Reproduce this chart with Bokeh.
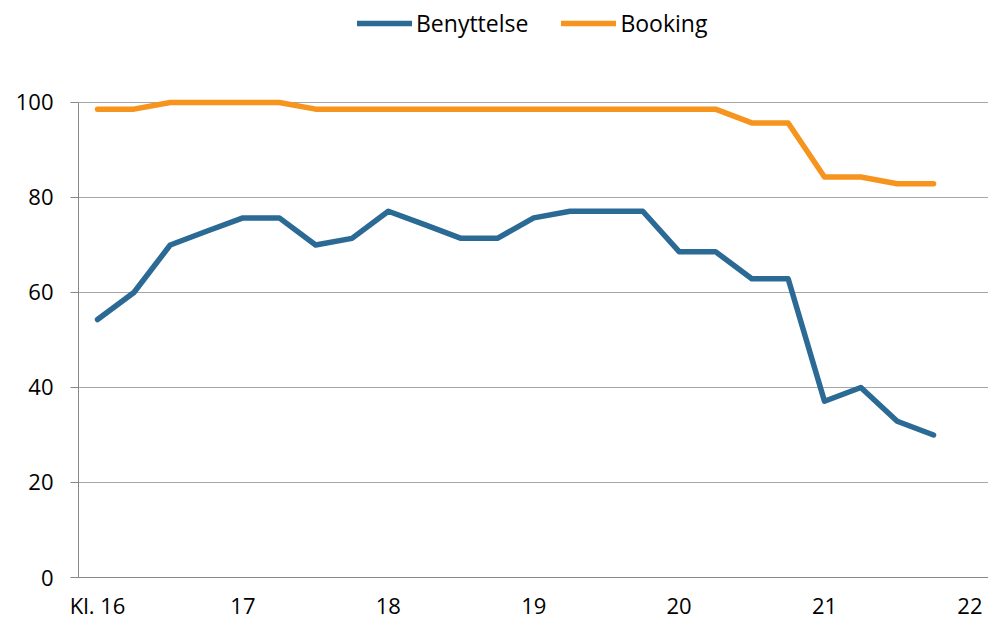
from bokeh.plotting import figure
from bokeh.models import Range1d, FixedTicker, Legend, LegendItem
from bokeh.embed import file_html
from bokeh.resources import INLINE

# Time of day (hours), quarter-hour steps
hours = [16 + 0.25 * i for i in range(24)]
benyttelse = [54.3, 60.0, 70.0, 72.9, 75.7, 75.7, 70.0, 71.4, 77.1, 74.3, 71.4, 71.4,
              75.7, 77.1, 77.1, 77.1, 68.6, 68.6, 62.9, 62.9, 37.1, 40.0, 32.9, 30.0]
booking = [98.6, 98.6, 100.0, 100.0, 100.0, 100.0, 98.6, 98.6, 98.6, 98.6, 98.6, 98.6,
           98.6, 98.6, 98.6, 98.6, 98.6, 98.6, 95.7, 95.7, 84.3, 84.3, 82.9, 82.9]
x_ticks = [16, 17, 18, 19, 20, 21, 22]
x_tick_labels = ["Kl. 16", "17", "18", "19", "20", "21", "22"]
y_ticks = [0, 20, 40, 60, 80, 100]

FONT = "Open Sans"
BLUE = "#2B6A94"
ORANGE = "#F7941E"

p = figure(width=988, height=622, output_backend="svg", toolbar_location=None,
           x_range=Range1d(15.869, 22.128), y_range=Range1d(0, 121.47),
           min_border_left=78, min_border_right=0, min_border_top=0, min_border_bottom=45)
p.outline_line_color = None
p.background_fill_color = "white"

r1 = p.line(hours, benyttelse, line_color=BLUE, line_width=5.5, line_join="round", line_cap="round")
r2 = p.line(hours, booking, line_color=ORANGE, line_width=5.5, line_join="round", line_cap="round")

# x axis
p.xaxis.ticker = FixedTicker(ticks=x_ticks)
p.xaxis.major_label_overrides = {t: l for t, l in zip(x_ticks, x_tick_labels)}
p.xaxis.major_tick_line_color = None
p.xaxis.major_tick_out = 0
p.xaxis.major_tick_in = 0
p.xaxis.minor_tick_line_color = None
p.xaxis.axis_line_color = "#888888"
p.xaxis.axis_line_width = 1
p.xaxis.major_label_standoff = 12
p.xaxis.major_label_text_font = FONT
p.xaxis.major_label_text_font_size = "22px"
p.xaxis.major_label_text_color = "black"
p.xgrid.grid_line_color = None

# y axis
p.yaxis.ticker = FixedTicker(ticks=y_ticks)
p.yaxis.bounds = (0, 100)
p.yaxis.major_tick_out = 8
p.yaxis.major_tick_in = 0
p.yaxis.major_tick_line_color = "#888888"
p.yaxis.minor_tick_line_color = None
p.yaxis.axis_line_color = "#888888"
p.yaxis.major_label_standoff = 17
p.yaxis.major_label_text_font = FONT
p.yaxis.major_label_text_font_size = "22px"
p.yaxis.major_label_text_color = "black"
p.ygrid.grid_line_color = "#A6A6A6"
p.ygrid.grid_line_width = 1

legend = Legend(items=[LegendItem(label="Benyttelse", renderers=[r1]),
                       LegendItem(label="Booking", renderers=[r2])],
                orientation="horizontal", location=(279, 538),
                label_text_font=FONT, label_text_font_size="23px", label_text_color="black",
                glyph_width=55, glyph_height=20, label_height=20, label_standoff=4,
                spacing=33, padding=0, margin=0,
                border_line_color=None, background_fill_alpha=0)
p.add_layout(legend, "center")

open("out.html", "w").write(file_html(p, INLINE))
